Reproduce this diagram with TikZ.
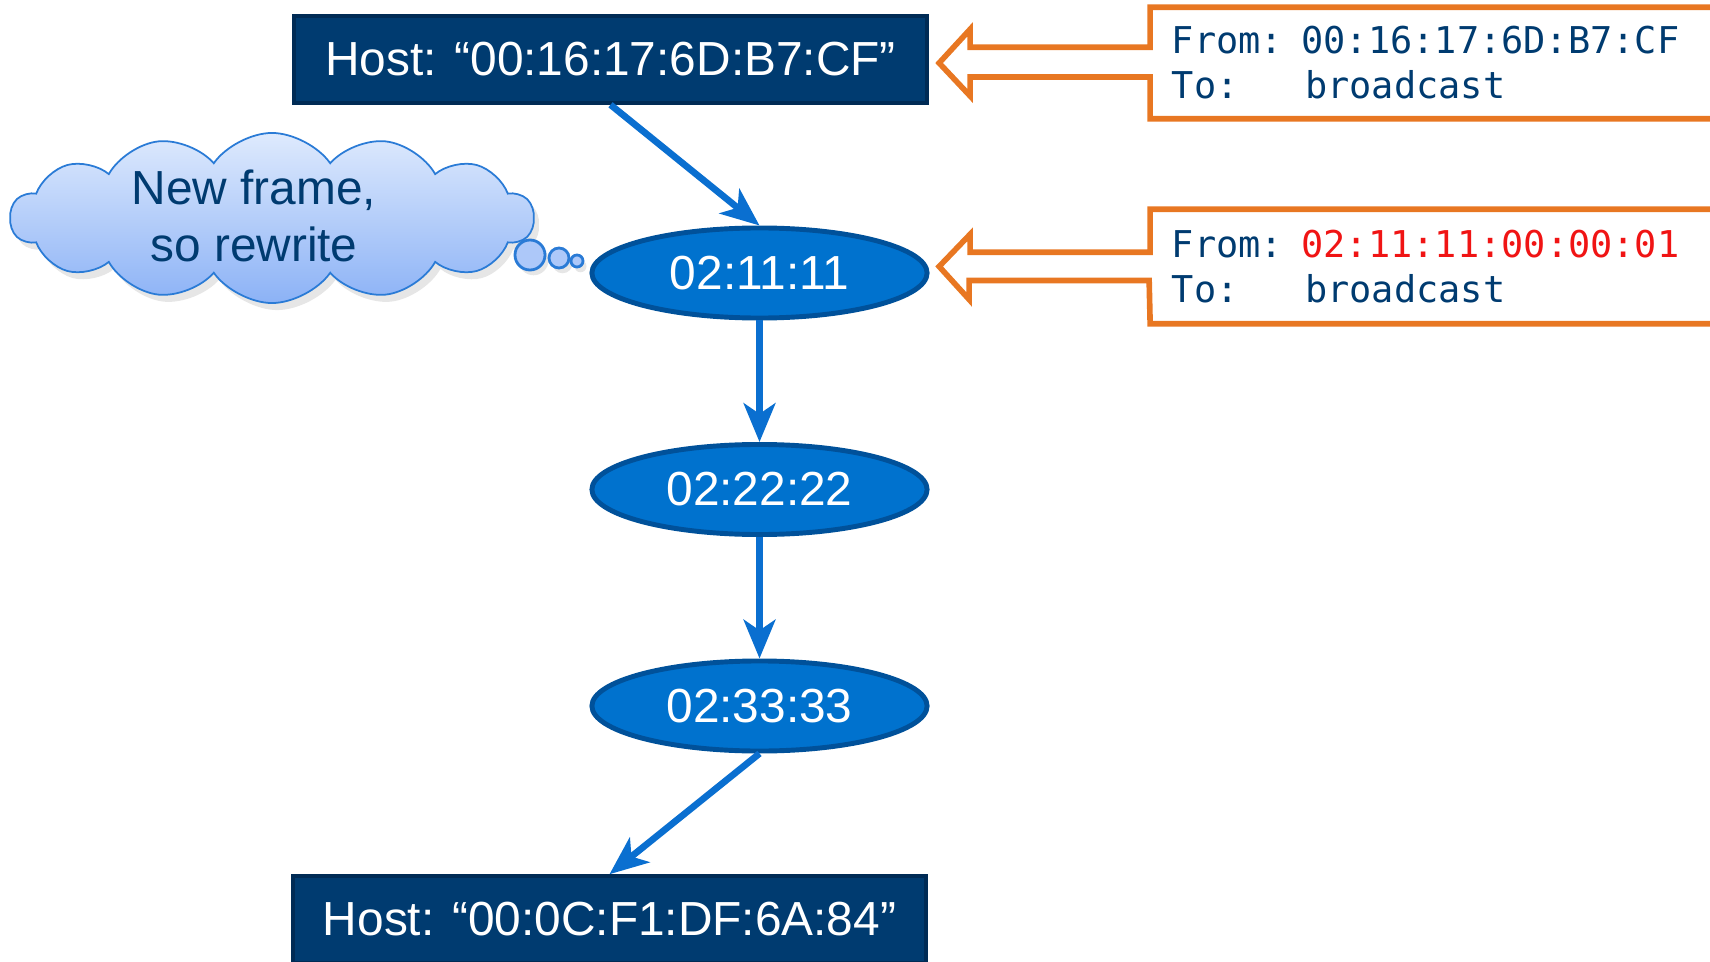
\documentclass[tikz,border=0pt]{standalone}
\usepackage{fontspec}
\setmainfont{Liberation Sans}
\newfontfamily\monofont{DejaVu Sans Mono}
\usepackage{tikz}
\usetikzlibrary{positioning,arrows.meta,calc,shapes.geometric,shapes.symbols,shadows}
\definecolor{navy}{HTML}{003B70}
\definecolor{navyline}{HTML}{002B55}
\definecolor{swblue}{HTML}{0072CE}
\definecolor{swline}{HTML}{00519A}
\definecolor{wireblue}{HTML}{0A6FD0}
\definecolor{orng}{HTML}{E87722}
\definecolor{hexred}{HTML}{F01414}
\definecolor{cloudtop}{HTML}{DEEAFD}
\definecolor{cloudbot}{HTML}{8CB2F6}
\definecolor{cloudline}{HTML}{2A7BD6}
\newcommand{\mac}[1]{\textcolor{hexred}{#1}}
\newcommand{\bigsans}{\fontsize{13.6}{16}\selectfont}
\tikzset{
  hostbox/.style={draw=navyline,line width=1pt,fill=navy,text=white,minimum width=6.33cm,minimum height=0.87cm,inner sep=0pt,font=\bigsans},
  swnode/.style={ellipse,draw=swline,line width=1.4pt,fill=swblue,text=white,minimum width=3.35cm,minimum height=0.9cm,inner sep=0pt,font=\bigsans},
  wire/.style={-{Stealth[length=11pt,width=9pt,inset=3pt]},line width=1.9pt,wireblue},
  framebox/.style={minimum width=5.79cm,text width=5.37cm,inner xsep=0.21cm,align=left,text=navy,font=\monofont\fontsize{10.5}{12.8}\selectfont},
  feed/.style={draw=orng,line width=1.6pt,line join=miter},
  thought/.style={cloud,cloud puffs=14,cloud puff arc=110,cloud ignores aspect,inner sep=0pt,draw=cloudline,line width=0.5pt,top color=cloudtop,bottom color=cloudbot,drop shadow={opacity=0.2,shadow xshift=1.5pt,shadow yshift=-2pt},minimum width=5.23cm,minimum height=1.7cm},
  thinking/.style={text=navy,align=center,font=\bigsans},
  bubble/.style={circle,draw=cloudline,line width=0.8pt,fill=cloudbot!60!cloudtop,inner sep=0pt,drop shadow={opacity=0.2,shadow xshift=1pt,shadow yshift=-1.5pt}},
}

\begin{document}
\begin{tikzpicture}[x=0.01cm,y=-0.01cm]
\useasboundingbox (0,0) rectangle (1710,961);
\node[hostbox] (hostA) at (610.5,59.5) {Host: “00:16:17:6D:B7:CF”};
\node[swnode] (sw1) at (759.5,273) {02:11:11};
\node[swnode] (sw2) at (759.5,489.5) {02:22:22};
\node[swnode] (sw3) at (759.5,706) {02:33:33};
\node[hostbox] (hostB) at (609.5,919.5) {Host: “00:0C:F1:DF:6A:84”};
\node[thought] (idea) at (272,218) {};
\node[thinking] (ideatext) at (254,216) {New frame,\\so rewrite};
\node[bubble,minimum size=0.3cm] (bub1) at (530,255) {};
\node[bubble,minimum size=0.2cm] (bub2) at (559,258) {};
\node[bubble,minimum size=0.12cm] (bub3) at (577,261) {};
\node[framebox,minimum height=1.1cm] (frameA) at (1440.5,63) {From: 00:16:17:6D:B7:CF\\To:\phantom{xxx}broadcast};
\node[framebox,minimum height=1.13cm] (frameB) at (1440.5,266.5) {From: \mac{02:11:11:00:00:01}\\To:\phantom{xxx}broadcast};
\draw[wire] (hostA.south) -- (sw1.north);
\draw[wire] (sw1.south) -- (sw2.north);
\draw[wire] (sw2.south) -- (sw3.north);
\draw[wire] (sw3.south) -- (hostB.north);
% frames pointing back at what sent them
\coordinate (tipA) at ($(frameA.west)+(-211,0)$);
\coordinate (tipB) at ($(frameB.west)+(-211,0)$);
\draw[feed] (frameA.north east) -- (frameA.north west) -- ++(0,40) -- ++(-180,0) -- ++(0,-18) -- (tipA)
  -- ++(31,33) -- ++(0,-19) -- ++(180,0) -- (frameA.south west) -- (frameA.south east);
\draw[feed] (frameB.north east) -- (frameB.north west) -- ++(0,43) -- ++(-180,0) -- ++(0,-18) -- (tipB)
  -- ++(30,33) -- ++(0,-19) -- ++(180,0) -- (frameB.south west) -- (frameB.south east);
\end{tikzpicture}
\end{document}
